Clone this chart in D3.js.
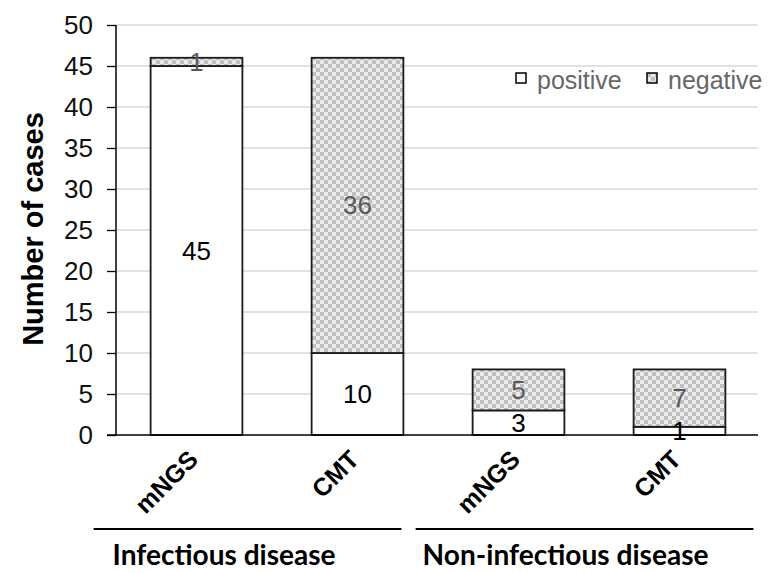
<!DOCTYPE html>
<html><head><meta charset="utf-8">
<script src="https://cdn.jsdelivr.net/npm/d3@7"></script>
<style>body{margin:0;background:#fff}svg{display:block}</style>
</head><body>
<svg id="chart" width="769" height="573"></svg>
<script>
const categories = ["mNGS","CMT","mNGS","CMT"];
const groups = ["Infectious disease","Non-infectious disease"];
const groupOf = [0,0,1,1];
const positive = [45,10,3,1];
const negative = [1,36,5,7];
const seriesNames = ["positive","negative"];
const yTicks = [0,5,10,15,20,25,30,35,40,45,50];
const yTitle = "Number of cases";

const svg = d3.select("#chart");
const defs = svg.append("defs");
const pat = defs.append("pattern").attr("id","chk").attr("patternUnits","userSpaceOnUse")
  .attr("width",8).attr("height",8);
pat.append("rect").attr("width",8).attr("height",8).attr("fill","#ebebeb");
pat.append("rect").attr("width",4).attr("height",4).attr("fill","#bfbfbf");
pat.append("rect").attr("x",4).attr("y",4).attr("width",4).attr("height",4).attr("fill","#bfbfbf");

const x = d3.scaleBand().domain(d3.range(categories.length)).range([116,760]).paddingInner(0.43).paddingOuter(0.215);
const y = d3.scaleLinear().domain([0,50]).range([435,25]);

// gridlines
svg.append("g").selectAll("line").data(yTicks.filter(d=>d>0)).join("line")
  .attr("x1",116).attr("x2",758).attr("y1",d=>y(d)).attr("y2",d=>y(d))
  .attr("stroke","#d9d9d9").attr("stroke-width",1.3);

// y axis
const yAxis = svg.append("g").attr("transform","translate(116,0)")
  .call(d3.axisLeft(y).tickValues(yTicks).tickSize(9).tickPadding(14));
yAxis.select(".domain").attr("stroke","#000").attr("stroke-width",1.5).attr("d","M0,"+y(50)+"V"+y(0));
yAxis.selectAll(".tick line").attr("stroke","#000").attr("stroke-width",1.3);
yAxis.selectAll("text").attr("font-family","Liberation Sans, Arial, sans-serif").attr("font-size",26).attr("fill","#111");

// bars
const stackData = categories.map((c,i)=>({i, positive:positive[i], negative:negative[i]}));
const stack = d3.stack().keys(seriesNames)(stackData);
const fills = ["#ffffff","url(#chk)"];
const labelColors = ["#000","#595959"];
stack.forEach((s,k)=>{
  svg.append("g").selectAll("rect").data(s).join("rect")
    .attr("x",d=>x(d.data.i)).attr("width",x.bandwidth())
    .attr("y",d=>y(d[1])).attr("height",d=>y(d[0])-y(d[1]))
    .attr("fill",fills[k]).attr("stroke","#1a1a1a").attr("stroke-width",1.8);
});
stack.forEach((s,k)=>{
  svg.append("g").selectAll("text").data(s).join("text")
    .attr("x",d=>x(d.data.i)+x.bandwidth()/2).attr("y",d=>y((d[0]+d[1])/2))
    .attr("text-anchor","middle").attr("dominant-baseline","central")
    .attr("font-family","Liberation Sans, Arial, sans-serif").attr("font-size",26)
    .attr("fill",labelColors[k]).text(d=>d[1]-d[0]);
});

// x axis baseline
svg.append("line").attr("x1",107).attr("x2",758).attr("y1",y(0)).attr("y2",y(0))
  .attr("stroke","#000").attr("stroke-width",1.5);

// category labels
svg.append("g").selectAll("text").data(categories).join("text")
  .attr("transform",(d,i)=>`translate(${x(i)+x.bandwidth()/2+3},${461}) rotate(-45)`)
  .attr("text-anchor","end")
  .attr("font-family","Liberation Sans, Arial, sans-serif").attr("font-weight","bold").attr("font-size",25)
  .attr("fill","#000").text(d=>d);

// group lines and labels
const groupExt = groups.map((g,gi)=>{
  const idx = d3.range(categories.length).filter(i=>groupOf[i]===gi);
  return {g, x0:x(idx[0]), x1:x(idx[idx.length-1])+x.bandwidth()};
});
svg.append("g").selectAll("line").data(groupExt).join("line")
  .attr("x1",(d,i)=>d.x0-57).attr("x2",(d,i)=>d.x1+(i===0?-2:28))
  .attr("y1",529).attr("y2",529).attr("stroke","#000").attr("stroke-width",2);
const gLabW = [223,286];
svg.append("g").selectAll("text").data(groupExt).join("text")
  .attr("x",(d,i)=>d.x0-(i===0?38:50)).attr("y",565)
  .attr("font-family","Lato, 'Open Sans', sans-serif").attr("font-weight","bold").attr("font-size",29)
  .attr("textLength",(d,i)=>gLabW[i]).attr("lengthAdjust","spacingAndGlyphs")
  .attr("fill","#000").text(d=>d.g);

// y title
svg.append("text").attr("transform","translate(43,229) rotate(-90)")
  .attr("text-anchor","middle")
  .attr("font-family","Liberation Sans, Arial, sans-serif").attr("font-weight","bold").attr("font-size",29)
  .attr("fill","#000").text(yTitle);

// legend
const legX = [516,647];
const leg = svg.append("g").selectAll("g").data(seriesNames).join("g")
  .attr("transform",(d,i)=>`translate(${legX[i]},73)`);
leg.append("rect").attr("width",10).attr("height",10).attr("fill",(d,i)=>fills[i])
  .attr("stroke","#000").attr("stroke-width",1.5);
leg.append("text").attr("x",21).attr("y",7).attr("dominant-baseline","central")
  .attr("font-family","Liberation Sans, Arial, sans-serif").attr("font-size",25)
  .attr("fill","#666").text(d=>d);
</script>
</body></html>
